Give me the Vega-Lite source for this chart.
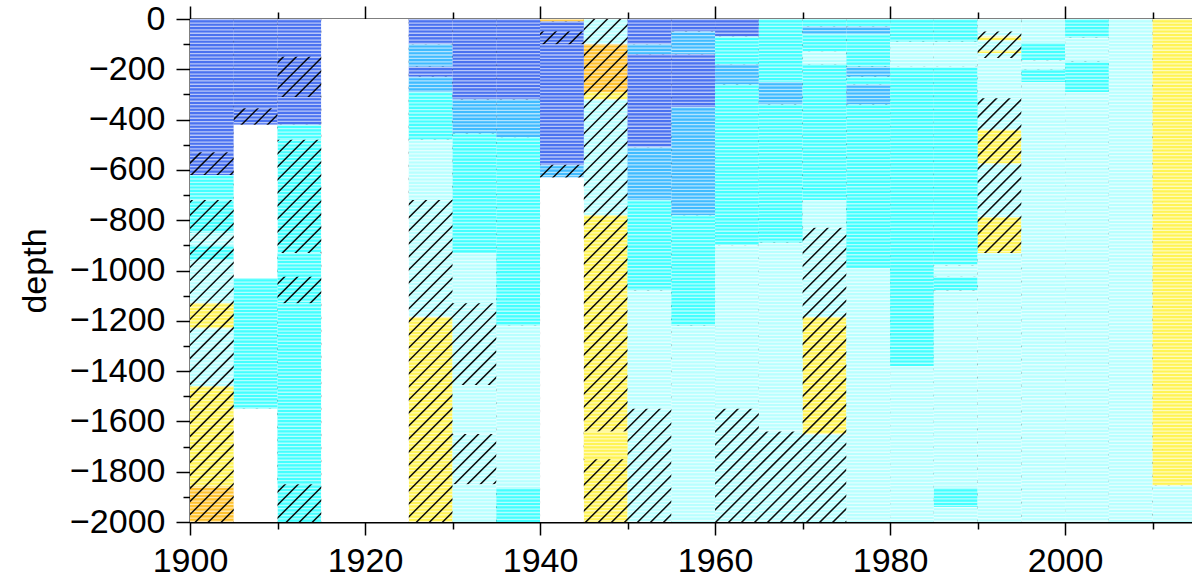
{
  "$schema": "https://vega.github.io/schema/vega-lite/v6.json",
  "width": 1002,
  "height": 503,
  "autosize": {"type": "none"},
  "padding": {"left": 190, "top": 19, "right": 0, "bottom": 57},
  "background": "white",
  "config": {
    "view": {"stroke": null},
    "font": "Liberation Sans",
    "axis": {
      "domainColor": "#000", "domainWidth": 2, "tickColor": "#000", "tickWidth": 1.5,
      "labelFont": "Liberation Sans", "labelFontSize": 34, "labelColor": "#000",
      "titleFont": "Liberation Sans", "titleFontSize": 34, "titleFontWeight": "normal", "titleColor": "#000",
      "grid": false, "labelFlush": false
    }
  },
  "datasets": {
    "cells": [
      {"x0":1900,"x1":1905,"top":0,"bot":-530,"c":"blue","h":0},
      {"x0":1900,"x1":1905,"top":-530,"bot":-620,"c":"blue","h":1},
      {"x0":1900,"x1":1905,"top":-620,"bot":-720,"c":"cyan","h":0},
      {"x0":1900,"x1":1905,"top":-720,"bot":-850,"c":"cyan","h":1},
      {"x0":1900,"x1":1905,"top":-850,"bot":-900,"c":"lightcyan","h":1},
      {"x0":1900,"x1":1905,"top":-900,"bot":-960,"c":"cyan","h":1},
      {"x0":1900,"x1":1905,"top":-960,"bot":-1130,"c":"lightcyan","h":1},
      {"x0":1900,"x1":1905,"top":-1130,"bot":-1230,"c":"yellow","h":1},
      {"x0":1900,"x1":1905,"top":-1230,"bot":-1460,"c":"lightcyan","h":1},
      {"x0":1900,"x1":1905,"top":-1460,"bot":-1860,"c":"yellow","h":1},
      {"x0":1900,"x1":1905,"top":-1860,"bot":-2000,"c":"orange","h":1},

      {"x0":1905,"x1":1910,"top":0,"bot":-355,"c":"blue","h":0},
      {"x0":1905,"x1":1910,"top":-355,"bot":-420,"c":"blue","h":1},
      {"x0":1905,"x1":1910,"top":-420,"bot":-1030,"c":"none","h":0},
      {"x0":1905,"x1":1910,"top":-1030,"bot":-1550,"c":"cyan","h":0},
      {"x0":1905,"x1":1910,"top":-1550,"bot":-2000,"c":"none","h":0},

      {"x0":1910,"x1":1915,"top":0,"bot":-150,"c":"blue","h":0},
      {"x0":1910,"x1":1915,"top":-150,"bot":-310,"c":"blue","h":1},
      {"x0":1910,"x1":1915,"top":-310,"bot":-420,"c":"blue","h":0},
      {"x0":1910,"x1":1915,"top":-420,"bot":-480,"c":"cyan","h":0},
      {"x0":1910,"x1":1915,"top":-480,"bot":-930,"c":"cyan","h":1},
      {"x0":1910,"x1":1915,"top":-930,"bot":-1025,"c":"cyan","h":0},
      {"x0":1910,"x1":1915,"top":-1025,"bot":-1130,"c":"cyan","h":1},
      {"x0":1910,"x1":1915,"top":-1130,"bot":-1850,"c":"cyan","h":0},
      {"x0":1910,"x1":1915,"top":-1850,"bot":-2000,"c":"cyan","h":1},

      {"x0":1915,"x1":1925,"top":0,"bot":-2000,"c":"none","h":0},

      {"x0":1925,"x1":1930,"top":0,"bot":-100,"c":"blue","h":0},
      {"x0":1925,"x1":1930,"top":-100,"bot":-190,"c":"midblue","h":0},
      {"x0":1925,"x1":1930,"top":-190,"bot":-230,"c":"blue","h":0},
      {"x0":1925,"x1":1930,"top":-230,"bot":-290,"c":"midblue","h":0},
      {"x0":1925,"x1":1930,"top":-290,"bot":-480,"c":"cyan","h":0},
      {"x0":1925,"x1":1930,"top":-480,"bot":-720,"c":"lightcyan","h":0},
      {"x0":1925,"x1":1930,"top":-720,"bot":-1185,"c":"lightcyan","h":1},
      {"x0":1925,"x1":1930,"top":-1185,"bot":-2000,"c":"yellow","h":1},

      {"x0":1930,"x1":1935,"top":0,"bot":-320,"c":"blue","h":0},
      {"x0":1930,"x1":1935,"top":-320,"bot":-455,"c":"midblue","h":0},
      {"x0":1930,"x1":1935,"top":-455,"bot":-930,"c":"cyan","h":0},
      {"x0":1930,"x1":1935,"top":-930,"bot":-1130,"c":"lightcyan","h":0},
      {"x0":1930,"x1":1935,"top":-1130,"bot":-1455,"c":"lightcyan","h":1},
      {"x0":1930,"x1":1935,"top":-1455,"bot":-1650,"c":"lightcyan","h":0},
      {"x0":1930,"x1":1935,"top":-1650,"bot":-1850,"c":"lightcyan","h":1},
      {"x0":1930,"x1":1935,"top":-1850,"bot":-2000,"c":"lightcyan","h":0},

      {"x0":1935,"x1":1940,"top":0,"bot":-320,"c":"blue","h":0},
      {"x0":1935,"x1":1940,"top":-320,"bot":-470,"c":"midblue","h":0},
      {"x0":1935,"x1":1940,"top":-470,"bot":-1220,"c":"cyan","h":0},
      {"x0":1935,"x1":1940,"top":-1220,"bot":-1865,"c":"lightcyan","h":0},
      {"x0":1935,"x1":1940,"top":-1865,"bot":-2000,"c":"cyan","h":0},

      {"x0":1940,"x1":1945,"top":0,"bot":-10,"c":"orange","h":0},
      {"x0":1940,"x1":1945,"top":-10,"bot":-50,"c":"blue","h":0},
      {"x0":1940,"x1":1945,"top":-50,"bot":-100,"c":"blue","h":1},
      {"x0":1940,"x1":1945,"top":-100,"bot":-580,"c":"blue","h":0},
      {"x0":1940,"x1":1945,"top":-580,"bot":-630,"c":"midblue","h":1},
      {"x0":1940,"x1":1945,"top":-630,"bot":-2000,"c":"none","h":0},

      {"x0":1945,"x1":1950,"top":0,"bot":-100,"c":"lightcyan","h":1},
      {"x0":1945,"x1":1950,"top":-100,"bot":-290,"c":"orange","h":1},
      {"x0":1945,"x1":1950,"top":-290,"bot":-320,"c":"yellow","h":1},
      {"x0":1945,"x1":1950,"top":-320,"bot":-780,"c":"lightcyan","h":1},
      {"x0":1945,"x1":1950,"top":-780,"bot":-1640,"c":"yellow","h":1},
      {"x0":1945,"x1":1950,"top":-1640,"bot":-1750,"c":"yellow","h":0},
      {"x0":1945,"x1":1950,"top":-1750,"bot":-2000,"c":"yellow","h":1},

      {"x0":1950,"x1":1955,"top":0,"bot":-100,"c":"blue","h":0},
      {"x0":1950,"x1":1955,"top":-100,"bot":-140,"c":"midblue","h":0},
      {"x0":1950,"x1":1955,"top":-140,"bot":-510,"c":"blue","h":0},
      {"x0":1950,"x1":1955,"top":-510,"bot":-720,"c":"midblue","h":0},
      {"x0":1950,"x1":1955,"top":-720,"bot":-1080,"c":"cyan","h":0},
      {"x0":1950,"x1":1955,"top":-1080,"bot":-1550,"c":"lightcyan","h":0},
      {"x0":1950,"x1":1955,"top":-1550,"bot":-2000,"c":"lightcyan","h":1},

      {"x0":1955,"x1":1960,"top":0,"bot":-50,"c":"blue","h":0},
      {"x0":1955,"x1":1960,"top":-50,"bot":-140,"c":"midblue","h":0},
      {"x0":1955,"x1":1960,"top":-140,"bot":-350,"c":"blue","h":0},
      {"x0":1955,"x1":1960,"top":-350,"bot":-780,"c":"midblue","h":0},
      {"x0":1955,"x1":1960,"top":-780,"bot":-1220,"c":"cyan","h":0},
      {"x0":1955,"x1":1960,"top":-1220,"bot":-2000,"c":"lightcyan","h":0},

      {"x0":1960,"x1":1965,"top":0,"bot":-70,"c":"blue","h":0},
      {"x0":1960,"x1":1965,"top":-70,"bot":-180,"c":"cyan","h":0},
      {"x0":1960,"x1":1965,"top":-180,"bot":-260,"c":"midblue","h":0},
      {"x0":1960,"x1":1965,"top":-260,"bot":-900,"c":"cyan","h":0},
      {"x0":1960,"x1":1965,"top":-900,"bot":-1550,"c":"lightcyan","h":0},
      {"x0":1960,"x1":1965,"top":-1550,"bot":-2000,"c":"lightcyan","h":1},

      {"x0":1965,"x1":1970,"top":0,"bot":-250,"c":"cyan","h":0},
      {"x0":1965,"x1":1970,"top":-250,"bot":-340,"c":"midblue","h":0},
      {"x0":1965,"x1":1970,"top":-340,"bot":-890,"c":"cyan","h":0},
      {"x0":1965,"x1":1970,"top":-890,"bot":-1640,"c":"lightcyan","h":0},
      {"x0":1965,"x1":1970,"top":-1640,"bot":-2000,"c":"lightcyan","h":1},

      {"x0":1970,"x1":1975,"top":0,"bot":-30,"c":"cyan","h":0},
      {"x0":1970,"x1":1975,"top":-30,"bot":-60,"c":"midblue","h":0},
      {"x0":1970,"x1":1975,"top":-60,"bot":-130,"c":"cyan","h":0},
      {"x0":1970,"x1":1975,"top":-130,"bot":-180,"c":"lightcyan","h":0},
      {"x0":1970,"x1":1975,"top":-180,"bot":-720,"c":"cyan","h":0},
      {"x0":1970,"x1":1975,"top":-720,"bot":-830,"c":"lightcyan","h":0},
      {"x0":1970,"x1":1975,"top":-830,"bot":-1185,"c":"lightcyan","h":1},
      {"x0":1970,"x1":1975,"top":-1185,"bot":-1650,"c":"yellow","h":1},
      {"x0":1970,"x1":1975,"top":-1650,"bot":-2000,"c":"lightcyan","h":1},

      {"x0":1975,"x1":1980,"top":0,"bot":-30,"c":"cyan","h":0},
      {"x0":1975,"x1":1980,"top":-30,"bot":-60,"c":"midblue","h":0},
      {"x0":1975,"x1":1980,"top":-60,"bot":-190,"c":"cyan","h":0},
      {"x0":1975,"x1":1980,"top":-190,"bot":-230,"c":"midblue","h":0},
      {"x0":1975,"x1":1980,"top":-230,"bot":-260,"c":"cyan","h":0},
      {"x0":1975,"x1":1980,"top":-260,"bot":-340,"c":"midblue","h":0},
      {"x0":1975,"x1":1980,"top":-340,"bot":-990,"c":"cyan","h":0},
      {"x0":1975,"x1":1980,"top":-990,"bot":-2000,"c":"lightcyan","h":0},

      {"x0":1980,"x1":1985,"top":0,"bot":-90,"c":"cyan","h":0},
      {"x0":1980,"x1":1985,"top":-90,"bot":-190,"c":"lightcyan","h":0},
      {"x0":1980,"x1":1985,"top":-190,"bot":-1380,"c":"cyan","h":0},
      {"x0":1980,"x1":1985,"top":-1380,"bot":-2000,"c":"lightcyan","h":0},

      {"x0":1985,"x1":1990,"top":0,"bot":-90,"c":"cyan","h":0},
      {"x0":1985,"x1":1990,"top":-90,"bot":-190,"c":"lightcyan","h":0},
      {"x0":1985,"x1":1990,"top":-190,"bot":-980,"c":"cyan","h":0},
      {"x0":1985,"x1":1990,"top":-980,"bot":-1025,"c":"lightcyan","h":0},
      {"x0":1985,"x1":1990,"top":-1025,"bot":-1080,"c":"cyan","h":0},
      {"x0":1985,"x1":1990,"top":-1080,"bot":-1865,"c":"lightcyan","h":0},
      {"x0":1985,"x1":1990,"top":-1865,"bot":-1940,"c":"cyan","h":0},
      {"x0":1985,"x1":1990,"top":-1940,"bot":-2000,"c":"lightcyan","h":0},

      {"x0":1990,"x1":1995,"top":0,"bot":-50,"c":"lightcyan","h":0},
      {"x0":1990,"x1":1995,"top":-50,"bot":-70,"c":"lightcyan","h":1},
      {"x0":1990,"x1":1995,"top":-70,"bot":-85,"c":"yellow","h":1},
      {"x0":1990,"x1":1995,"top":-85,"bot":-125,"c":"lightcyan","h":1},
      {"x0":1990,"x1":1995,"top":-125,"bot":-135,"c":"yellow","h":1},
      {"x0":1990,"x1":1995,"top":-135,"bot":-155,"c":"lightcyan","h":1},
      {"x0":1990,"x1":1995,"top":-155,"bot":-315,"c":"lightcyan","h":0},
      {"x0":1990,"x1":1995,"top":-315,"bot":-440,"c":"lightcyan","h":1},
      {"x0":1990,"x1":1995,"top":-440,"bot":-575,"c":"yellow","h":1},
      {"x0":1990,"x1":1995,"top":-575,"bot":-787,"c":"lightcyan","h":1},
      {"x0":1990,"x1":1995,"top":-787,"bot":-930,"c":"yellow","h":1},
      {"x0":1990,"x1":1995,"top":-930,"bot":-2000,"c":"lightcyan","h":0},

      {"x0":1995,"x1":2000,"top":0,"bot":-95,"c":"lightcyan","h":0},
      {"x0":1995,"x1":2000,"top":-95,"bot":-165,"c":"cyan","h":0},
      {"x0":1995,"x1":2000,"top":-165,"bot":-200,"c":"lightcyan","h":0},
      {"x0":1995,"x1":2000,"top":-200,"bot":-250,"c":"cyan","h":0},
      {"x0":1995,"x1":2000,"top":-250,"bot":-2000,"c":"lightcyan","h":0},

      {"x0":2000,"x1":2005,"top":0,"bot":-75,"c":"cyan","h":0},
      {"x0":2000,"x1":2005,"top":-75,"bot":-170,"c":"lightcyan","h":0},
      {"x0":2000,"x1":2005,"top":-170,"bot":-290,"c":"cyan","h":0},
      {"x0":2000,"x1":2005,"top":-290,"bot":-2000,"c":"lightcyan","h":0},

      {"x0":2005,"x1":2010,"top":0,"bot":-2000,"c":"lightcyan","h":0},

      {"x0":2010,"x1":2015,"top":0,"bot":-1855,"c":"yellow","h":0},
      {"x0":2010,"x1":2015,"top":-1855,"bot":-2000,"c":"lightcyan","h":0}
    ]
  },
  "resolve": {"axis": {"x": "independent", "y": "independent"}},
  "layer": [
    {
      "data": {"name": "cells"},
      "transform": [{"filter": "datum.h == 1"}],
      "mark": {"type": "rect", "clip": true},
      "encoding": {
        "x": {"field": "x0", "type": "quantitative",
              "scale": {"domain": [1900, 2014.5], "nice": false, "zero": false},
              "axis": {"orient": "bottom", "values": [1900, 1920, 1940, 1960, 1980, 2000], "format": "d", "tickSize": 13, "labelPadding": 9, "title": null}},
        "x2": {"field": "x1"},
        "y": {"field": "top", "type": "quantitative",
              "scale": {"domain": [-2000, 0], "nice": false, "zero": false},
              "axis": {"orient": "left", "values": [0, -200, -400, -600, -800, -1000, -1200, -1400, -1600, -1800, -2000], "format": "d", "tickSize": 14, "labelPadding": 11, "title": "depth", "titlePadding": 17}},
        "y2": {"field": "bot"},
        "color": {"field": "c", "type": "nominal",
                  "scale": {"domain": ["blue", "midblue", "cyan", "lightcyan", "yellow", "orange", "none"],
                            "range": ["#4a72f0", "#40bbff", "#44ffff", "#b8ffff", "#fff454", "#ffc22e", "#ffffff"]},
                  "legend": null}
      }
    },
    {
      "data": {"name": "cells"},
      "transform": [{"filter": "datum.h == 1"}],
      "mark": {"type": "rule", "strokeWidth": 43.75, "xOffset": 21.875, "strokeDash": [1.3, 2.1], "color": "#ffffff", "opacity": 0.6, "clip": true},
      "encoding": {
        "x": {"field": "x0", "type": "quantitative",
              "axis": {"orient": "bottom", "values": [1910, 1930, 1950, 1970, 1990, 2010], "tickSize": 7, "labels": false, "domain": false, "title": null}},
        "y": {"field": "top", "type": "quantitative",
              "axis": {"orient": "left", "values": [-100, -300, -500, -700, -900, -1100, -1300, -1500, -1700, -1900], "tickSize": 7, "labels": false, "domain": false, "title": null}},
        "y2": {"field": "bot"}
      }
    },
    {
      "data": {"values": [{}]},
      "mark": {"type": "rule", "strokeWidth": 1500, "strokeDash": [1.5, 7.7], "color": "#000000", "opacity": 0.95, "clip": true},
      "encoding": {
        "x": {"datum": 1900, "type": "quantitative",
              "axis": {"orient": "top", "values": [1900, 1920, 1940, 1960, 1980, 2000], "tickSize": 13, "labels": false, "title": null}},
        "x2": {"datum": 2037.1},
        "y": {"datum": 0, "type": "quantitative", "axis": null},
        "y2": {"datum": -4771}
      }
    },
    {
      "data": {"name": "cells"},
      "transform": [{"filter": "datum.h == 0"}],
      "mark": {"type": "rect", "clip": true},
      "encoding": {
        "x": {"field": "x0", "type": "quantitative",
              "axis": {"orient": "top", "values": [1910, 1930, 1950, 1970, 1990, 2010], "tickSize": 7, "labels": false, "domain": false, "title": null}},
        "x2": {"field": "x1"},
        "y": {"field": "top", "type": "quantitative", "axis": null},
        "y2": {"field": "bot"},
        "color": {"field": "c", "type": "nominal", "legend": null}
      }
    },
    {
      "data": {"name": "cells"},
      "transform": [{"filter": "datum.h == 0 && datum.c != 'none'"}],
      "mark": {"type": "rule", "strokeWidth": 43.75, "xOffset": 21.875, "strokeDash": [1.3, 2.1], "color": "#ffffff", "opacity": 0.6, "clip": true},
      "encoding": {
        "x": {"field": "x0", "type": "quantitative", "axis": null},
        "y": {"field": "top", "type": "quantitative", "axis": null},
        "y2": {"field": "bot"}
      }
    }
  ]
}
